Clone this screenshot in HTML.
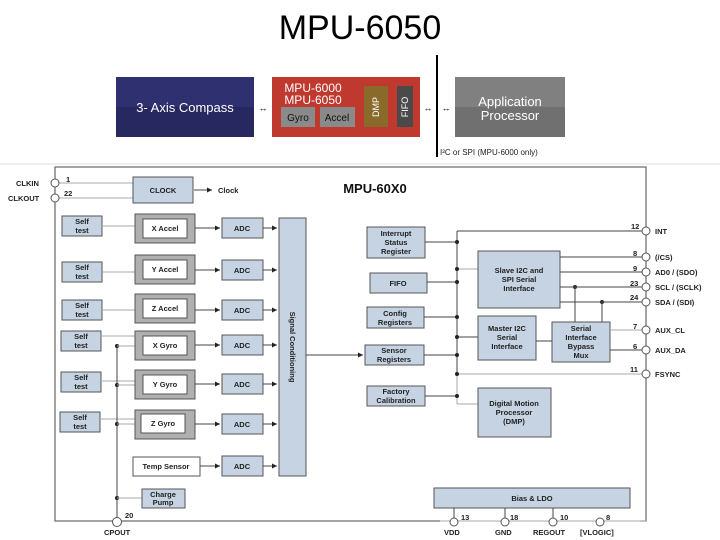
<!DOCTYPE html>
<html><head><meta charset="utf-8"><style>
html,body{margin:0;padding:0;background:#fff;}
svg{display:block;font-family:"Liberation Sans",sans-serif;}
.b{fill:#c5d3e3;stroke:#555;stroke-width:1}
.o{fill:#b0b0b0;stroke:#555;stroke-width:1}
.w{fill:#fff;stroke:#555;stroke-width:1}
.t{font-size:7.5px;font-weight:bold;fill:#222;text-anchor:middle}
.l{stroke:#444;stroke-width:1;fill:none}
.g{stroke:#aaa;stroke-width:1;fill:none}
.c{fill:#fff;stroke:#555;stroke-width:1}
.p{font-size:7.5px;font-weight:bold;fill:#222}
</style></head><body>
<svg width="720" height="540" viewBox="0 0 720 540" xmlns="http://www.w3.org/2000/svg">
<defs><marker id="a" markerWidth="6" markerHeight="6" refX="5" refY="3" orient="auto"><path d="M0,0.5 L5,3 L0,5.5z" fill="#222"/></marker></defs>
<text x="360" y="39" font-size="34" text-anchor="middle" fill="#000">MPU-6050</text>
<!-- top banner -->
<rect x="116" y="77" width="138" height="60" fill="#2f3070"/>
<rect x="116" y="107" width="138" height="30" fill="#26285f"/>
<text x="185" y="112" font-size="13" fill="#fff" text-anchor="middle">3- Axis Compass</text>
<text x="263" y="111" font-size="9" text-anchor="middle">↔</text>
<rect x="272" y="77" width="148" height="60" fill="#c0392f"/>
<text x="313" y="92" font-size="12" fill="#fff" text-anchor="middle">MPU-6000</text>
<text x="313" y="104" font-size="12" fill="#fff" text-anchor="middle">MPU-6050</text>
<rect x="281" y="107" width="34" height="20" fill="#8a8a8a"/><text x="298" y="121" font-size="10" fill="#111" text-anchor="middle">Gyro</text>
<rect x="320" y="107" width="35" height="20" fill="#8a8a8a"/><text x="337" y="121" font-size="10" fill="#111" text-anchor="middle">Accel</text>
<rect x="364" y="86" width="24" height="41" fill="#8a6a2a"/><text x="379" y="107" font-size="9" fill="#fff" text-anchor="middle" transform="rotate(-90 379 107)">DMP</text>
<rect x="397" y="86" width="16" height="41" fill="#4a4a4a"/><text x="408" y="107" font-size="9" fill="#fff" text-anchor="middle" transform="rotate(-90 408 107)">FIFO</text>
<text x="428" y="111" font-size="9" text-anchor="middle">↔</text>
<text x="446" y="111" font-size="9" text-anchor="middle">↔</text>
<line x1="437" y1="55" x2="437" y2="157" stroke="#000" stroke-width="2"/>
<rect x="455" y="77" width="110" height="60" fill="#808080"/>
<rect x="455" y="107" width="110" height="30" fill="#707070"/>
<text x="510" y="106" font-size="13" fill="#fff" text-anchor="middle">Application</text>
<text x="510" y="120" font-size="13" fill="#fff" text-anchor="middle">Processor</text>
<text x="440" y="155" font-size="8" fill="#222">I²C or SPI (MPU-6000 only)</text>
<line x1="0" y1="164" x2="720" y2="164" stroke="#ddd"/>
<!-- main border -->
<rect x="55" y="167" width="591" height="354" fill="none" stroke="#666" stroke-width="1.2"/>
<text x="375" y="193" font-size="13" font-weight="bold" text-anchor="middle" fill="#111">MPU-60X0</text>
<!-- clock -->
<line class="g" x1="55" y1="183" x2="133" y2="183"/><line class="g" x1="55" y1="198" x2="133" y2="198"/>
<circle class="c" cx="55" cy="183" r="4"/><circle class="c" cx="55" cy="198" r="4"/>
<text class="p" x="16" y="186">CLKIN</text><text class="p" x="8" y="201">CLKOUT</text>
<text class="p" x="66" y="182">1</text><text class="p" x="64" y="196">22</text>
<rect class="b" x="133" y="177" width="60" height="26"/><text class="t" x="163" y="193">CLOCK</text>
<line class="l" x1="194" y1="190" x2="212" y2="190" marker-end="url(#a)"/><text class="p" x="218" y="193" font-weight="normal">Clock</text>
<!-- sensors -->
<g>
<rect class="b" x="62" y="216" width="40" height="20"/><text class="t" x="82" y="224">Self</text><text class="t" x="82" y="233">test</text>
<rect class="b" x="62" y="262" width="40" height="20"/><text class="t" x="82" y="270">Self</text><text class="t" x="82" y="279">test</text>
<rect class="b" x="62" y="300" width="40" height="20"/><text class="t" x="82" y="308">Self</text><text class="t" x="82" y="317">test</text>
<rect class="b" x="61" y="331" width="40" height="20"/><text class="t" x="81" y="339">Self</text><text class="t" x="81" y="348">test</text>
<rect class="b" x="61" y="372" width="40" height="20"/><text class="t" x="81" y="380">Self</text><text class="t" x="81" y="389">test</text>
<rect class="b" x="60" y="412" width="40" height="20"/><text class="t" x="80" y="420">Self</text><text class="t" x="80" y="429">test</text>
</g>
<g class="g"><line x1="102" y1="226" x2="135" y2="226"/><line x1="102" y1="272" x2="135" y2="272"/><line x1="102" y1="310" x2="135" y2="310"/>
<line x1="101" y1="336" x2="135" y2="336"/><line x1="101" y1="381" x2="135" y2="381"/><line x1="100" y1="419" x2="135" y2="419"/></g>
<line class="l" x1="117" y1="346" x2="117" y2="518"/>
<g fill="#222"><circle cx="117" cy="346" r="2"/><circle cx="117" cy="385" r="2"/><circle cx="117" cy="424" r="2"/><circle cx="117" cy="498" r="2"/></g>
<g class="g"><line x1="117" y1="346" x2="135" y2="346"/><line x1="117" y1="385" x2="135" y2="385"/><line x1="117" y1="424" x2="135" y2="424"/><line x1="117" y1="498" x2="142" y2="498"/></g>
<circle class="c" cx="117" cy="522" r="4.5"/><text class="p" x="125" y="518">20</text><text class="p" x="104" y="535">CPOUT</text>
<g>
<rect class="o" x="135" y="214" width="60" height="29"/><rect class="w" x="143" y="219" width="44" height="19"/><text class="t" x="165" y="231">X Accel</text>
<rect class="o" x="135" y="255" width="60" height="29"/><rect class="w" x="143" y="260" width="44" height="19"/><text class="t" x="165" y="272">Y Accel</text>
<rect class="o" x="135" y="294" width="60" height="29"/><rect class="w" x="143" y="299" width="44" height="19"/><text class="t" x="165" y="311">Z Accel</text>
<rect class="o" x="135" y="331" width="60" height="29"/><rect class="w" x="143" y="336" width="44" height="19"/><text class="t" x="165" y="348">X Gyro</text>
<rect class="o" x="135" y="370" width="60" height="29"/><rect class="w" x="143" y="375" width="44" height="19"/><text class="t" x="165" y="387">Y Gyro</text>
<rect class="o" x="135" y="410" width="60" height="29"/><rect class="w" x="141" y="414" width="44" height="19"/><text class="t" x="163" y="426">Z Gyro</text>
<rect class="w" x="133" y="457" width="67" height="19"/><text class="t" x="166" y="469">Temp Sensor</text>
<rect class="b" x="142" y="489" width="43" height="19"/><text class="t" x="163" y="497">Charge</text><text class="t" x="163" y="505">Pump</text>
</g>
<g>
<rect class="b" x="222" y="218" width="41" height="20"/><text class="t" x="242" y="231">ADC</text>
<rect class="b" x="222" y="260" width="41" height="20"/><text class="t" x="242" y="273">ADC</text>
<rect class="b" x="222" y="300" width="41" height="20"/><text class="t" x="242" y="313">ADC</text>
<rect class="b" x="222" y="335" width="41" height="20"/><text class="t" x="242" y="348">ADC</text>
<rect class="b" x="222" y="374" width="41" height="20"/><text class="t" x="242" y="387">ADC</text>
<rect class="b" x="222" y="414" width="41" height="20"/><text class="t" x="242" y="427">ADC</text>
<rect class="b" x="222" y="456" width="41" height="20"/><text class="t" x="242" y="469">ADC</text>
</g>
<g class="l">
<line x1="195" y1="228" x2="220" y2="228" marker-end="url(#a)"/><line x1="195" y1="270" x2="220" y2="270" marker-end="url(#a)"/>
<line x1="195" y1="310" x2="220" y2="310" marker-end="url(#a)"/><line x1="195" y1="345" x2="220" y2="345" marker-end="url(#a)"/>
<line x1="195" y1="384" x2="220" y2="384" marker-end="url(#a)"/><line x1="195" y1="424" x2="220" y2="424" marker-end="url(#a)"/>
<line x1="200" y1="466" x2="220" y2="466" marker-end="url(#a)"/>
<line x1="263" y1="228" x2="277" y2="228" marker-end="url(#a)"/><line x1="263" y1="270" x2="277" y2="270" marker-end="url(#a)"/>
<line x1="263" y1="310" x2="277" y2="310" marker-end="url(#a)"/><line x1="263" y1="345" x2="277" y2="345" marker-end="url(#a)"/>
<line x1="263" y1="384" x2="277" y2="384" marker-end="url(#a)"/><line x1="263" y1="424" x2="277" y2="424" marker-end="url(#a)"/>
<line x1="263" y1="466" x2="277" y2="466" marker-end="url(#a)"/>
</g>
<rect class="b" x="279" y="218" width="27" height="258"/>
<text class="p" x="290" y="347" text-anchor="middle" transform="rotate(90 290 347)" font-weight="normal">Signal Conditioning</text>
<line class="l" x1="306" y1="355" x2="363" y2="355" marker-end="url(#a)"/>
<!-- right registers -->
<rect class="b" x="367" y="227" width="58" height="31"/><text class="t" x="396" y="236">Interrupt</text><text class="t" x="396" y="245">Status</text><text class="t" x="396" y="254">Register</text>
<rect class="b" x="370" y="273" width="57" height="20"/><text class="t" x="398" y="286">FIFO</text>
<rect class="b" x="367" y="307" width="57" height="21"/><text class="t" x="395" y="316">Config</text><text class="t" x="395" y="325">Registers</text>
<rect class="b" x="365" y="345" width="59" height="20"/><text class="t" x="394" y="353">Sensor</text><text class="t" x="394" y="362">Registers</text>
<rect class="b" x="367" y="386" width="58" height="20"/><text class="t" x="396" y="394">Factory</text><text class="t" x="396" y="403">Calibration</text>
<line class="l" x1="457" y1="231" x2="457" y2="375"/><line class="g" x1="457" y1="375" x2="457" y2="404"/><line class="g" x1="457" y1="404" x2="478" y2="404"/>
<line class="l" x1="457" y1="231" x2="642" y2="231"/>
<g class="l"><line x1="425" y1="242" x2="457" y2="242"/><line x1="427" y1="282" x2="457" y2="282"/><line x1="424" y1="317" x2="457" y2="317"/><line x1="424" y1="355" x2="457" y2="355"/><line x1="425" y1="396" x2="457" y2="396"/><line x1="457" y1="337" x2="478" y2="337"/></g>
<line class="g" x1="457" y1="269" x2="478" y2="269"/><line class="g" x1="457" y1="374" x2="642" y2="374"/>
<g fill="#222"><circle cx="457" cy="242" r="2"/><circle cx="457" cy="269" r="2"/><circle cx="457" cy="282" r="2"/><circle cx="457" cy="317" r="2"/><circle cx="457" cy="337" r="2"/><circle cx="457" cy="355" r="2"/><circle cx="457" cy="374" r="2"/><circle cx="457" cy="396" r="2"/><circle cx="575" cy="287" r="2"/><circle cx="602" cy="302" r="2"/></g>
<rect class="b" x="478" y="251" width="82" height="57"/><text class="t" x="519" y="273">Slave I2C and</text><text class="t" x="519" y="282">SPI Serial</text><text class="t" x="519" y="291" font-weight="normal">Interface</text>
<rect class="b" x="478" y="316" width="58" height="44"/><text class="t" x="507" y="331">Master I2C</text><text class="t" x="507" y="340">Serial</text><text class="t" x="507" y="349">Interface</text>
<rect class="b" x="552" y="322" width="58" height="40"/><text class="t" x="581" y="331">Serial</text><text class="t" x="581" y="340">Interface</text><text class="t" x="581" y="349">Bypass</text><text class="t" x="581" y="358">Mux</text>
<rect class="b" x="478" y="388" width="73" height="49"/><text class="t" x="514" y="406">Digital Motion</text><text class="t" x="514" y="415">Processor</text><text class="t" x="514" y="424">(DMP)</text>
<g class="l"><line x1="560" y1="257" x2="642" y2="257"/><line x1="560" y1="272" x2="642" y2="272"/><line x1="560" y1="287" x2="642" y2="287"/><line x1="560" y1="302" x2="642" y2="302"/>
<line x1="575" y1="287" x2="575" y2="322"/><line x1="602" y1="302" x2="602" y2="322"/><line x1="536" y1="341" x2="552" y2="341"/><line x1="610" y1="350" x2="642" y2="350"/></g>
<line class="g" x1="610" y1="330" x2="642" y2="330"/>
<g><circle class="c" cx="646" cy="231" r="4"/><circle class="c" cx="646" cy="257" r="4"/><circle class="c" cx="646" cy="272" r="4"/><circle class="c" cx="646" cy="287" r="4"/><circle class="c" cx="646" cy="302" r="4"/><circle class="c" cx="646" cy="330" r="4"/><circle class="c" cx="646" cy="350" r="4"/><circle class="c" cx="646" cy="374" r="4"/></g>
<g class="p"><text x="631" y="229">12</text><text x="633" y="256">8</text><text x="633" y="271">9</text><text x="630" y="286">23</text><text x="630" y="300">24</text><text x="633" y="329">7</text><text x="633" y="349">6</text><text x="630" y="372">11</text>
<text x="655" y="234">INT</text><text x="655" y="260">(/CS)</text><text x="655" y="275">AD0 / (SDO)</text><text x="655" y="290">SCL / (SCLK)</text><text x="655" y="305">SDA / (SDI)</text><text x="655" y="333">AUX_CL</text><text x="655" y="353">AUX_DA</text><text x="655" y="377">FSYNC</text></g>
<!-- bias -->
<rect class="b" x="434" y="488" width="196" height="20"/><text class="t" x="532" y="501">Bias &amp; LDO</text>
<g class="l"><line x1="454" y1="508" x2="454" y2="518"/><line x1="505" y1="508" x2="505" y2="518"/><line x1="553" y1="508" x2="553" y2="518"/></g>
<rect x="440" y="519" width="200" height="4" fill="#fff"/>
<line class="g" x1="440" y1="521" x2="646" y2="521"/>
<circle class="c" cx="454" cy="522" r="4"/><circle class="c" cx="505" cy="522" r="4"/><circle class="c" cx="553" cy="522" r="4"/><circle class="c" cx="600" cy="522" r="4"/>
<g class="p"><text x="461" y="520">13</text><text x="510" y="520">18</text><text x="560" y="520">10</text><text x="606" y="520">8</text>
<text x="444" y="535">VDD</text><text x="495" y="535">GND</text><text x="533" y="535">REGOUT</text><text x="580" y="535">[VLOGIC]</text></g>
</svg>
</body></html>
